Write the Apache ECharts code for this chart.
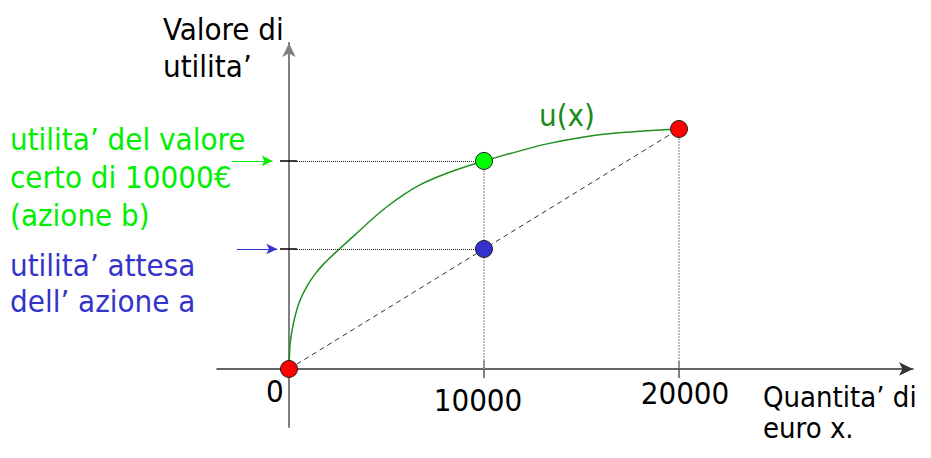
<!DOCTYPE html>
<html>
<head>
<meta charset="utf-8">
<script src="https://cdn.jsdelivr.net/npm/echarts@6/dist/echarts.min.js"></script>
<style>
html,body{margin:0;padding:0;background:#fff;}
#c{width:931px;height:458px;}
</style>
</head>
<body>
<div id="c"></div>
<script>
// ---- data ----
const xTickValues = [10000, 20000];
const xLabelValues = [0, 10000, 20000];
const curveX = [0, 15, 50, 135, 301, 552, 903, 1305, 1807, 2559, 3397, 4230, 5068, 5906, 6739, 7577, 8415, 9207, 10000, 11356, 13167, 14973, 16779, 18590, 20000];
const curveY = [0, 0.0375, 0.096, 0.15, 0.217, 0.283, 0.342, 0.392, 0.44, 0.498, 0.56, 0.622, 0.679, 0.728, 0.768, 0.799, 0.825, 0.847, 0.867, 0.898, 0.937, 0.965, 0.983, 0.994, 1];
const chordX = [0, 20000];
const chordY = [0, 1];
const pointNames = ['origine', 'valore certo', 'utilita attesa', 'massimo'];
const pointX = [0, 10000, 10000, 20000];
const pointY = [0, 0.867, 0.5, 1];
const yLevels = [0.867, 0.5];   // utilita' del valore certo, utilita' attesa
const xLevels = [10000, 20000];

const FONT = '"DejaVu Sans Condensed", "DejaVu Sans", sans-serif';
const pointColors = ['#ff0000', '#00ff00', '#3333cc', '#ff0000'];
const X_MIN = -3692, X_MAX = 32000, Y_MIN = -0.2417, Y_MAX = 1.3583;

const chart = echarts.init(document.getElementById('c'), null, {renderer: 'svg'});

const option = {
  animation: false,
  grid: {left: 217, right: 18, top: 43, bottom: 31, containLabel: false, outerBoundsMode: 'none'},
  xAxis: [{
    type: 'value', min: X_MIN, max: X_MAX,
    position: 'bottom', offset: -58,
    splitLine: {show: false},
    axisLine: {show: true, onZero: false, symbol: ['none', 'arrow'], symbolSize: [10, 14],
      lineStyle: {color: '#333', width: 1.5}},
    axisTick: {show: true, customValues: xTickValues, length: 9, lineStyle: {color: '#555', width: 1.5}},
    axisLabel: {
      show: true, customValues: xLabelValues, margin: 6, color: '#000',
      fontFamily: FONT, fontSize: 31, hideOverlap: false,
      formatter: function (v) {
        if (v === 0) return '{z|0}';
        if (v === 10000) return '{a|' + v + '}';
        return '{b|' + v + '}';
      },
      rich: {
        z: {fontFamily: FONT, fontSize: 31, color: '#000', padding: [0, 28, 0, 0]},
        a: {fontFamily: FONT, fontSize: 31, color: '#000', padding: [9, 12, 0, 0]},
        b: {fontFamily: FONT, fontSize: 31, color: '#000', padding: [2, 0, 0, 12]}
      }
    }
  }, {
    // upper half of the crossing x ticks
    type: 'value', min: X_MIN, max: X_MAX,
    position: 'bottom', offset: -58,
    splitLine: {show: false},
    axisLine: {show: false, onZero: false},
    axisTick: {show: true, inside: true, customValues: xTickValues, length: 8, lineStyle: {color: '#555', width: 1.5}},
    axisLabel: {show: false}
  }],
  yAxis: [{
    type: 'value', min: Y_MIN, max: Y_MAX,
    splitLine: {show: false},
    axisLine: {show: true, onZero: true, onZeroAxisIndex: 0, symbol: ['none', 'arrow'], symbolSize: [10, 14],
      lineStyle: {color: '#808080', width: 2}},
    axisTick: {show: true, customValues: yLevels, length: 9, lineStyle: {color: '#000', width: 1.5}},
    axisLabel: {show: false}
  }, {
    // right half of the crossing y ticks
    type: 'value', min: Y_MIN, max: Y_MAX, position: 'left',
    splitLine: {show: false},
    axisLine: {show: false, onZero: true, onZeroAxisIndex: 0},
    axisTick: {show: true, inside: true, customValues: yLevels, length: 8, lineStyle: {color: '#000', width: 1.5}},
    axisLabel: {show: false}
  }],
  series: [
    {
      type: 'line', name: 'guide',
      data: [], silent: true,
      markLine: {
        silent: true, symbol: ['none', 'none'], label: {show: false},
        data: [
          [{coord: [0, yLevels[0]], lineStyle: {color: '#222', type: [1, 1], width: 1}}, {coord: [xLevels[0], yLevels[0]]}],
          [{coord: [0, yLevels[1]], lineStyle: {color: '#222', type: [1, 1], width: 1}}, {coord: [xLevels[0], yLevels[1]]}],
          [{coord: [xLevels[0], yLevels[0]], lineStyle: {color: '#aaa', type: [2, 1], width: 1.5}}, {coord: [xLevels[0], 0]}],
          [{coord: [xLevels[1], 1], lineStyle: {color: '#aaa', type: [2, 1], width: 1.5}}, {coord: [xLevels[1], 0]}]
        ]
      }
    },
    {
      type: 'line', name: 'frecce',
      data: [], silent: true,
      markLine: {
        silent: true, symbol: ['none', 'arrow'], symbolSize: [8, 11], label: {show: false},
        data: [
          [{coord: [-2930, yLevels[0]], lineStyle: {color: '#00ee00', type: 'solid', width: 1.2}, itemStyle: {color: '#00ee00'}}, {coord: [-840, yLevels[0]]}],
          [{coord: [-2670, yLevels[1]], lineStyle: {color: '#3333cc', type: 'solid', width: 1.2}, itemStyle: {color: '#3333cc'}}, {coord: [-600, yLevels[1]]}]
        ]
      }
    },
    {
      type: 'line', name: 'corda',
      data: chordX.map((x, i) => [x, chordY[i]]),
      showSymbol: false, silent: true,
      lineStyle: {color: '#333', width: 1, type: [5, 4]}
    },
    {
      type: 'line', name: 'u(x)',
      data: curveX.map((x, i) => [x, curveY[i]]),
      smooth: 0.25,
      showSymbol: false, silent: true,
      lineStyle: {color: '#1f8f1f', width: 1.5}
    },
    {
      type: 'scatter', name: 'punti',
      data: pointX.map((x, i) => ({name: pointNames[i], value: [x, pointY[i]], itemStyle: {color: pointColors[i]}})),
      symbolSize: 17, z: 10,
      itemStyle: {borderColor: '#222', borderWidth: 1, opacity: 1}
    }
  ],
  graphic: [
    {type: 'text', left: 163, top: 10, style: {text: 'Valore di\nutilita\u2019', font: '31px ' + FONT, fill: '#000', lineHeight: 37}},
    {type: 'text', left: 10, top: 120, style: {text: 'utilita\u2019 del valore\ncerto di 10000\u20ac\n(azione b)', font: '31px ' + FONT, fill: '#00ee00', lineHeight: 38}},
    {type: 'text', left: 10, top: 247, style: {text: 'utilita\u2019 attesa\ndell\u2019 azione a', font: '31px ' + FONT, fill: '#3333cc', lineHeight: 36}},
    {type: 'text', left: 539, top: 99, style: {text: 'u(x)', font: '31px ' + FONT, fill: '#1a8a1a'}},
    {type: 'text', left: 763, top: 382, style: {text: 'Quantita\u2019 di', font: '29px ' + FONT, fill: '#000'}},
    {type: 'text', left: 763, top: 413, style: {text: 'euro x.', font: '29px ' + FONT, fill: '#000'}}
  ]
};
chart.setOption(option);
</script>
</body>
</html>
